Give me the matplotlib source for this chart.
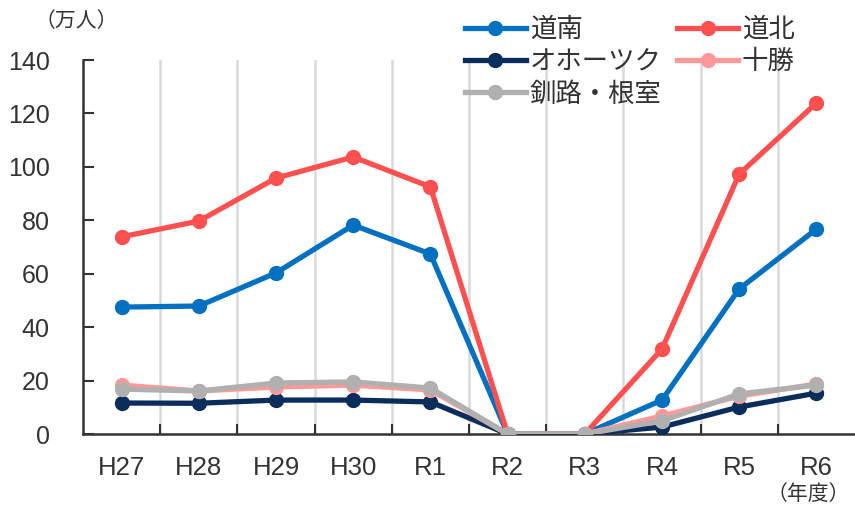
import matplotlib
matplotlib.use('Agg')
import matplotlib.pyplot as plt
import numpy as np

years = ['H27', 'H28', 'H29', 'H30', 'R1', 'R2', 'R3', 'R4', 'R5', 'R6']

donan = [47.5, 47.9, 60.3, 78.2, 67.4, 0, 0, 12.7, 54.3, 76.7]
dohoku = [73.8, 79.7, 95.8, 103.7, 92.5, 0, 0, 31.8, 97.3, 123.9]
okhotsk = [11.6, 11.5, 12.7, 12.7, 12.0, 0, 0, 2.6, 10.1, 15.3]
tokachi = [18.3, 16.1, 17.6, 18.3, 16.5, 0, 0, 6.7, 14.2, 18.7]
kushiro = [16.8, 16.1, 19.1, 19.5, 17.2, 0, 0, 4.9, 15.0, 18.3]

series = [
    ('道南', donan, '#0070C0'),
    ('道北', dohoku, '#FF5050'),
    ('オホーツク', okhotsk, '#0B2D5B'),
    ('十勝', tokachi, '#FF9999'),
    ('釧路・根室', kushiro, '#B0B0B0'),
]

plt.rcParams['font.family'] = ['Liberation Sans', 'Noto Sans CJK JP']
txt = '#333333'

fig = plt.figure(figsize=(8.55, 5.12), dpi=100)
ax = fig.add_axes([83 / 855, 78 / 512, 772 / 855, 374 / 512])

x = np.arange(len(years))
lines = {}
for name, vals, col in series:
    lines[name], = ax.plot(x, vals, color=col, lw=3.8, marker='o', ms=10, label=name,
                           solid_joinstyle='round', zorder=3)

ax.set_xlim(-0.5, len(years) - 0.5)
ax.set_ylim(0, 140)
ax.set_yticks(range(0, 141, 20))
ax.set_xticks(x)
ax.set_xticklabels(years)
ax.set_xticks(np.arange(0.5, len(years) - 1, 1), minor=True)
ax.grid(True, axis='x', which='minor', color='#D9D9D9', lw=1.8, zorder=0)

ax.tick_params(axis='x', which='major', length=0, pad=16, labelsize=18.5, labelcolor=txt)
ax.tick_params(axis='x', which='minor', direction='in', length=7, width=1.5, color=txt)
ax.tick_params(axis='y', direction='in', length=8, width=1.5, color=txt,
               pad=24, labelsize=18, labelcolor=txt)

for s in ['top', 'right']:
    ax.spines[s].set_visible(False)
for s in ['left', 'bottom']:
    ax.spines[s].set_color(txt)
    ax.spines[s].set_linewidth(1.8)

fig.text(35 / 855, 1 - 21 / 512, '（万人）', fontsize=15, color=txt, va='center',
         family=['Noto Sans CJK JP'])
fig.text(850 / 855, 1 - 494 / 512, '（年度）', fontsize=15, color=txt, va='center',
         ha='right', family=['Noto Sans CJK JP'])

# 行ごとに並ぶよう順番を入れ替え
order = ['道南', 'オホーツク', '釧路・根室', '道北', '十勝']
leg = fig.legend([lines[n] for n in order], order,
                 loc='upper left', bbox_to_anchor=(465 / 855, 1 - 16 / 512), ncol=2,
                 frameon=False, handlelength=2.3, handletextpad=0.15, columnspacing=0.6,
                 labelspacing=0.2, borderpad=0, borderaxespad=0,
                 prop={'family': 'Noto Sans CJK JP', 'size': 19})
for t in leg.get_texts():
    t.set_color(txt)

fig.savefig('out.png', dpi=100)
